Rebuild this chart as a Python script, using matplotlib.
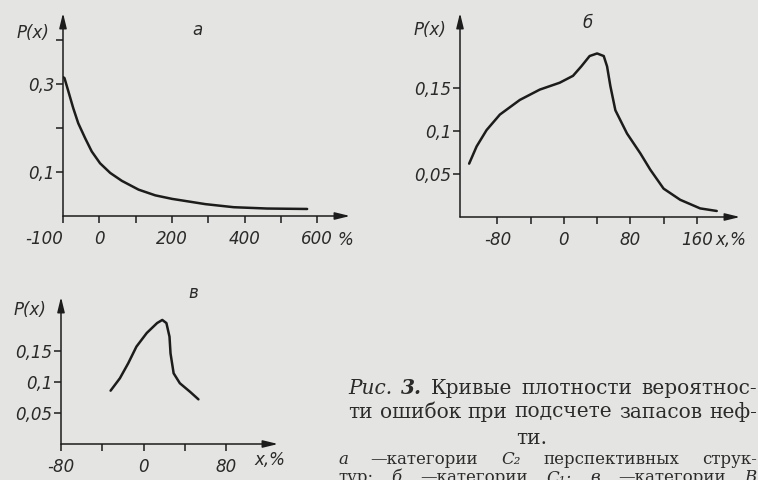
import matplotlib
matplotlib.use('Agg')
import matplotlib.pyplot as plt

# panel а
a_x = [-100, -96, -85, -72, -58, -39, -21, 2, 30, 62, 108, 154, 200, 246, 292, 370, 462, 572]
a_p = [0.316, 0.314, 0.283, 0.246, 0.211, 0.177, 0.147, 0.120, 0.098, 0.080, 0.060, 0.047,
       0.039, 0.033, 0.027, 0.020, 0.017, 0.016]
a_xticks = [-100, 0, 100, 200, 300, 400, 500, 600]
a_xlabels = ['-100', '0', '', '200', '', '400', '', '600']
a_yticks = [0.1, 0.2, 0.3, 0.4]
a_ylabels = ['0,1', '', '0,3', '']

# panel б
b_x = [-114, -105, -93, -77, -53, -29, -5, 11, 21, 31, 40, 48, 52, 56, 62, 76, 92, 104, 120, 140, 164, 184]
b_p = [0.062, 0.082, 0.101, 0.119, 0.136, 0.148, 0.156, 0.164, 0.175, 0.187, 0.190, 0.187,
       0.175, 0.152, 0.124, 0.097, 0.074, 0.055, 0.033, 0.020, 0.010, 0.007]
b_xticks = [-80, -40, 0, 40, 80, 120, 160]
b_xlabels = ['-80', '', '0', '', '80', '', '160']
b_yticks = [0.05, 0.1, 0.15]
b_ylabels = ['0,05', '0,1', '0,15']

# panel в
c_x = [-32, -23, -15, -7, 3, 13, 18, 22, 25, 26, 29, 35, 45, 53]
c_p = [0.086, 0.106, 0.130, 0.157, 0.179, 0.195, 0.200, 0.195, 0.173, 0.146, 0.114, 0.098, 0.084, 0.072]
c_xticks = [-80, -40, 0, 40, 80]
c_xlabels = ['-80', '', '0', '', '80']
c_yticks = [0.05, 0.1, 0.15]
c_ylabels = ['0,05', '0,1', '0,15']

bg = '#e4e4e2'
ink = '#1c1c1c'
W, H = 758, 480

fig = plt.figure(figsize=(7.58, 4.8), dpi=100, facecolor=bg)


def panel(rect, x, p, xlim, ylim, xticks, xlabels, yticks, ylabels,
          letter, letter_pos, unit, unit_pos, ylab_pos):
    l, r, b, t = rect
    ax = fig.add_axes([l / W, 1 - b / H, (r - l) / W, (b - t) / H])
    ax.set_facecolor('none')
    ax.plot(x, p, color=ink, lw=1.8, solid_capstyle='round', solid_joinstyle='round')
    ax.set_xlim(xlim)
    ax.set_ylim(ylim)
    for s in ax.spines.values():
        s.set_visible(False)
    arrow = dict(arrowstyle='-|>,head_length=0.9,head_width=0.22', color=ink, lw=1.1,
                 shrinkA=0, shrinkB=0)
    ax.annotate('', xy=(0, 1), xytext=(0, 0), xycoords='axes fraction', arrowprops=arrow,
                annotation_clip=False)
    ax.annotate('', xy=(1, 0), xytext=(0, 0), xycoords='axes fraction', arrowprops=arrow,
                annotation_clip=False)
    ax.set_xticks(xticks)
    ax.set_xticklabels(xlabels)
    ax.set_yticks(yticks)
    ax.set_yticklabels(ylabels)
    ax.tick_params(axis='x', length=5, width=1.1, color=ink, pad=5, labelsize=12,
                   labelcolor='#2a2a2a')
    ax.tick_params(axis='y', length=5, width=1.1, color=ink, pad=1, labelsize=12,
                   labelcolor='#2a2a2a')
    for lab in ax.get_xticklabels() + ax.get_yticklabels():
        lab.set_fontstyle('italic')
    ax.text(*ylab_pos, 'P(x)', transform=ax.transAxes, fontsize=12, style='italic',
            color='#2a2a2a', ha='center', va='center')
    ax.text(*letter_pos, letter, transform=ax.transAxes, fontsize=12, style='italic',
            color='#2a2a2a', ha='center', va='center')
    ax.text(*unit_pos, unit, transform=ax.transAxes, fontsize=12, style='italic',
            color='#2a2a2a', ha='center', va='center')
    return ax


ax_a = panel((63, 350, 216, 13), a_x, a_p, (-100, 690), (0, 0.462), a_xticks, a_xlabels,
             a_yticks, a_ylabels, 'а', (0.47, 0.916), '%', (0.983, -0.118), (-0.105, 0.90))
ax_a.get_xticklabels()[0].set_horizontalalignment('right')

ax_b = panel((460, 740, 217, 13), b_x, b_p, (-125, 212), (0, 0.237), b_xticks, b_xlabels,
             b_yticks, b_ylabels, 'б', (0.454, 0.951), 'x,%', (0.968, -0.113), (-0.107, 0.917))

ax_c = panel((61, 278, 444, 297), c_x, c_p, (-80, 130), (0, 0.237), c_xticks, c_xlabels,
             c_yticks, c_ylabels, 'в', (0.608, 1.027), 'x,%', (0.963, -0.109), (-0.143, 0.91))

# caption, set as a justified block
cap_lines = [
    ([('Рис.', 'italic'), ('3.', 'italic'), ('Кривые', 'normal'), ('плотности', 'normal'),
      ('вероятнос-', 'normal')], 348, 757, 388, 14.5),
    ([('ти', 'normal'), ('ошибок', 'normal'), ('при', 'normal'), ('подсчете', 'normal'),
      ('запасов', 'normal'), ('неф-', 'normal')], 348, 757, 412, 14.5),
    ([('ти.', 'normal')], 516, 550, 438, 14.5),
    ([('а', 'italic'), ('—категории', 'normal'), ('C₂', 'italic'), ('перспективных', 'normal'),
      ('струк-', 'normal')], 338, 757, 459, 12),
    ([('тур;', 'normal'), ('б', 'italic'), ('—категории', 'normal'), ('C₁;', 'italic'),
      ('в', 'italic'), ('—категории', 'normal'), ('B', 'italic')], 338, 757, 478, 12),
]

fig.canvas.draw()
rend = fig.canvas.get_renderer()
for words, x0, x1, y, size in cap_lines:
    ts = []
    for w, st in words:
        weight = 'bold' if w == '3.' else 'normal'
        ts.append(fig.text(0, 1 - y / H, w, fontsize=size, family='DejaVu Serif', style=st,
                           weight=weight, color='#2b2b2b', va='center', ha='left'))
    widths = [t.get_window_extent(rend).width for t in ts]
    if len(ts) == 1:
        ts[0].set_x(x0 / W)
        continue
    gap = (x1 - x0 - sum(widths)) / (len(ts) - 1)
    pos = x0
    for t, wd in zip(ts, widths):
        t.set_x(pos / W)
        pos += wd + gap

fig.savefig('out.png', dpi=100, facecolor=bg)
